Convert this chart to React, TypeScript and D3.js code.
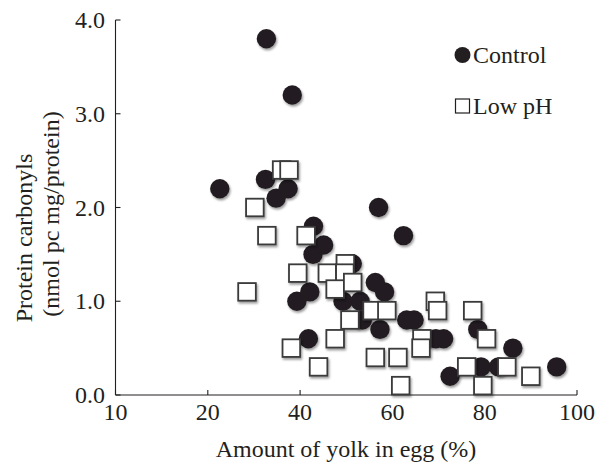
import React from "react";
import * as d3 from "d3";

const controlYolk = [32.7, 38.3, 32.5, 37.4, 34.8, 22.6, 57.0, 42.9, 45.1, 42.8, 51.3, 42.1, 39.3, 49.3, 53.0, 56.3, 58.3, 53.5, 57.3, 41.8, 62.4, 63.1, 64.7, 78.5, 69.4, 71.1, 86.1, 95.6, 83.0, 79.2, 72.5];
const controlCarbonyls = [3.8, 3.2, 2.3, 2.2, 2.1, 2.2, 2.0, 1.8, 1.6, 1.5, 1.4, 1.1, 1.0, 1.0, 1.0, 1.2, 1.1, 0.8, 0.7, 0.6, 1.7, 0.8, 0.8, 0.7, 0.6, 0.6, 0.5, 0.3, 0.3, 0.3, 0.2];

const lowPHYolk = [36.0, 37.6, 30.2, 32.8, 41.3, 39.5, 45.9, 49.8, 49.7, 47.6, 51.4, 28.5, 55.6, 58.8, 50.8, 38.1, 47.6, 44.0, 56.3, 61.2, 61.8, 69.3, 69.8, 77.4, 80.4, 66.4, 66.2, 84.8, 90.0, 76.1, 79.6];
const lowPHCarbonyls = [2.4, 2.4, 2.0, 1.7, 1.7, 1.3, 1.3, 1.4, 1.3, 1.13, 1.2, 1.1, 0.9, 0.9, 0.8, 0.5, 0.6, 0.3, 0.4, 0.4, 0.1, 1.0, 0.9, 0.9, 0.6, 0.6, 0.5, 0.3, 0.2, 0.3, 0.1];

const xTicks = [0, 20, 40, 60, 80, 100];
const xTickLabels = ["10", "20", "40", "60", "80", "100"];
const yTicks = [0, 1, 2, 3, 4];
const yTickLabels = ["0.0", "1.0", "2.0", "3.0", "4.0"];

const seriesNames = ["Control", "Low pH"];

export default function App() {
  const W = 611;
  const H = 465;
  const x = d3.scaleLinear().domain([0, 100]).range([115.5, 577]);
  const y = d3.scaleLinear().domain([0, 4]).range([395, 20]);
  const font = "'Liberation Serif', 'Times New Roman', serif";
  const ink = "#231f20";
  const r = 9.7;
  const sq = 17.6;

  return (
    <svg
      width={W}
      height={H}
      viewBox={`0 0 ${W} ${H}`}
      style={{ position: "absolute", left: 0, top: 0, background: "#fff" }}
      fontFamily={font}
    >
      <defs>
        <filter id="shadow" x="-50%" y="-50%" width="200%" height="200%">
          <feDropShadow dx="1.2" dy="2" stdDeviation="1.3" floodColor="#000" floodOpacity="0.38" />
        </filter>
      </defs>
      <rect x={0} y={0} width={W} height={H} fill="#fff" />

      {/* axes */}
      <g stroke={ink} strokeWidth={1.1} fill="none">
        <line x1={x(0)} y1={y(0)} x2={x(100)} y2={y(0)} />
        <line x1={x(0)} y1={y(0)} x2={x(0)} y2={y(4)} />
        {xTicks.map((t) => (
          <line key={"xt" + t} x1={x(t)} x2={x(t)} y1={y(0)} y2={y(0) - 5} />
        ))}
        {yTicks.map((t) => (
          <line key={"yt" + t} x1={x(0)} x2={x(0) + 5} y1={y(t)} y2={y(t)} />
        ))}
      </g>

      {/* tick labels */}
      <g fill={ink} fontSize={24}>
        {xTicks.map((t, i) => (
          <text key={"xl" + t} x={x(t)} y={420} textAnchor="middle">
            {xTickLabels[i]}
          </text>
        ))}
        {yTicks.map((t, i) => (
          <text key={"yl" + t} x={105} y={y(t) + 8} textAnchor="end">
            {yTickLabels[i]}
          </text>
        ))}
      </g>

      {/* axis titles */}
      <g fill={ink} fontSize={24}>
        <text x={346} y={457} textAnchor="middle">
          Amount of yolk in egg (%)
        </text>
        <text transform="translate(32,238) rotate(-90)" textAnchor="middle">
          Protein carbonyls
        </text>
        <text transform="translate(59,214) rotate(-90)" textAnchor="middle">
          (nmol pc mg/protein)
        </text>
      </g>

      {/* control circles */}
      <g filter="url(#shadow)">
        {controlYolk.map((v, i) => (
          <circle key={"c" + i} cx={x(v)} cy={y(controlCarbonyls[i])} r={r} fill={ink} />
        ))}
      </g>

      {/* low pH squares */}
      <g filter="url(#shadow)">
        {lowPHYolk.map((v, i) => (
          <rect
            key={"s" + i}
            x={x(v) - sq / 2}
            y={y(lowPHCarbonyls[i]) - sq / 2}
            width={sq}
            height={sq}
            fill="#fff"
            stroke="#3a3a3a"
            strokeWidth={1.8}
          />
        ))}
      </g>

      {/* legend */}
      <g fontSize={24} fill={ink}>
        <circle cx={462.5} cy={55} r={8} fill={ink} />
        <text x={473} y={63}>{seriesNames[0]}</text>
        <rect x={455.5} y={99} width={14} height={14} fill="#fff" stroke={ink} strokeWidth={1.2} />
        <text x={473} y={113.5}>{seriesNames[1]}</text>
      </g>
    </svg>
  );
}
